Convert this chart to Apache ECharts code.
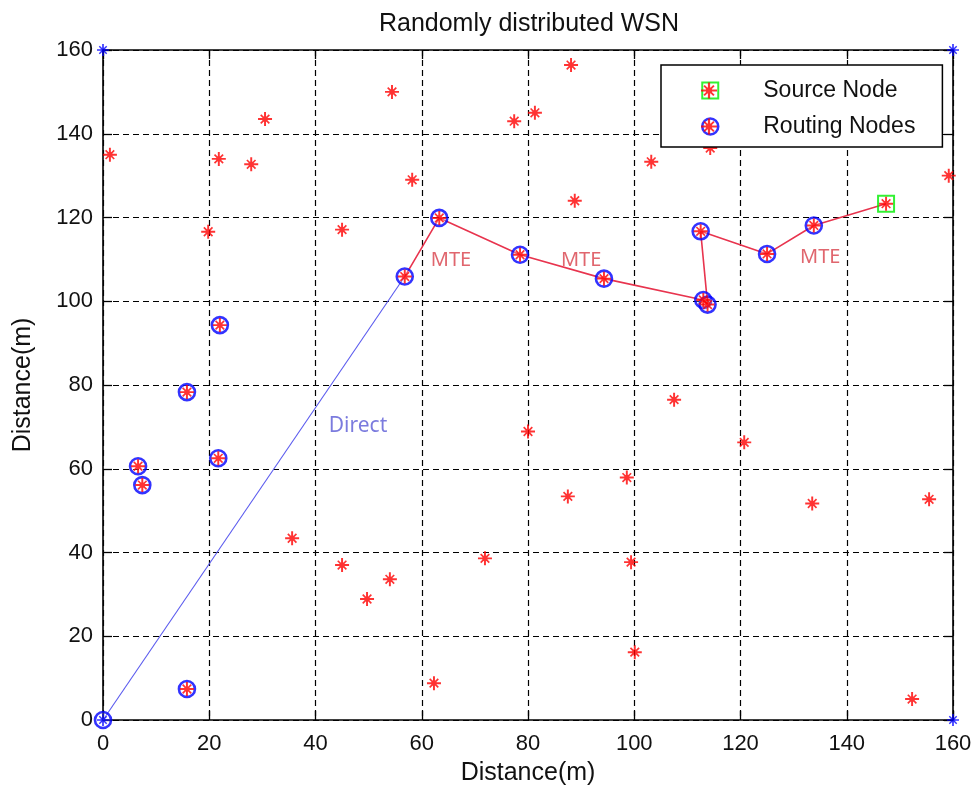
<!DOCTYPE html>
<html>
<head>
<meta charset="utf-8">
<script src="https://cdn.jsdelivr.net/npm/echarts@6/dist/echarts.min.js"></script>
<style>html,body{margin:0;padding:0;background:#fff;}#c{width:979px;height:791px;}</style>
</head>
<body>
<div id="c"></div>
<script>
// ---- data ----
const otherNodes = [
  [1.3,135],[21.8,134],[27.9,132.7],[30.5,143.5],[19.8,116.6],[54.4,150],[45,117.1],[58.2,129],
  [77.4,143],[81.3,145],[88.1,156.4],[88.8,124],[103.2,133.3],[114.3,136.6],[159.2,130],
  [107.5,76.5],[120.7,66.3],[80,68.9],[87.5,53.4],[98.6,57.9],[99.4,37.7],[100.1,16.2],
  [133.5,51.7],[155.5,52.7],[152.3,5],[35.6,43.4],[45,37],[49.7,28.9],[54,33.6],[71.9,38.6],[62.3,8.8]
];
const routingNodes = [
  [6.6,60.6],[7.4,56.1],[15.8,78.3],[21.7,62.5],[22,94.3],[15.8,7.4],
  [56.8,105.9],[63.3,119.9],[78.5,111.1],[94.3,105.4],[113.0,100.3],[113.8,99.2],
  [112.5,116.7],[125,111.3],[133.8,118.1]
];
const sourceNode = [[147.4,123.3]];
const sinkNode = [[0,0]];
const cornerNodes = [[0,0],[0,160],[160,160],[160,0]];
const mtePath = [[56.8,105.9],[63.3,119.9],[78.5,111.1],[94.3,105.4],[113.0,100.3],[113.8,99.3],[112.5,116.7],[125,111.3],[133.8,118.1],[147.4,123.3]];
const directPath = [[0,0],[56.8,105.9]];
const mteLabels = [[65.5,109.7,'MTE'],[90,109.7,'MTE'],[135,110.6,'MTE']];
const directLabels = [[48,70.1,'Direct']];
const axisTicks = [0,20,40,60,80,100,120,140,160];

// ---- symbols ----
const STAR = 'path://M0 8.6 L20 8.6 L20 11.4 L0 11.4 Z M8.6 0 L11.4 0 L11.4 20 L8.6 20 Z M6.3 6.3 L13.7 6.3 L13.7 13.7 L6.3 13.7 Z M3 4.7 L4.7 3 L17 15.3 L15.3 17 Z M15.3 3 L17 4.7 L4.7 17 L3 15.3 Z';
const FONT = 'Liberation Sans, Arial, sans-serif';

const chart = echarts.init(document.getElementById('c'), null, {renderer:'canvas'});

const gridLine = {show:true, lineStyle:{color:'#000', type:[6,4], width:1.2}};
const axLine = {show:true, onZero:false, lineStyle:{color:'#000', width:1.6}};
const tick = {show:true, inside:true, length:9, lineStyle:{color:'#000', width:1.3}};

const option = {
  backgroundColor:'#fff',
  animation:false,
  title:{text:'Randomly distributed WSN', left:524, top:7, textAlign:'center',
    textStyle:{fontFamily:FONT, fontSize:25, fontWeight:'normal', color:'#111'}},
  grid:{left:103, right:26, top:50, bottom:70},
  xAxis:[
    {type:'value', min:0, max:160, interval:20, position:'bottom',
     name:'Distance(m)', nameLocation:'middle', nameGap:41,
     nameTextStyle:{fontFamily:FONT, fontSize:25, color:'#111'},
     axisLine:axLine, axisTick:tick, splitLine:gridLine,
     axisLabel:{fontFamily:FONT, fontSize:22, color:'#111', margin:13}},
    {type:'value', min:0, max:160, interval:20, position:'top',
     axisLine:axLine, axisTick:tick, splitLine:{show:false}, axisLabel:{show:false}}
  ],
  yAxis:[
    {type:'value', min:0, max:160, interval:20, position:'left',
     name:'Distance(m)', nameLocation:'middle', nameGap:67, nameRotate:90,
     nameTextStyle:{fontFamily:FONT, fontSize:25, color:'#111'},
     axisLine:axLine, axisTick:tick, splitLine:gridLine,
     axisLabel:{fontFamily:FONT, fontSize:22, color:'#111', margin:10}},
    {type:'value', min:0, max:160, interval:20, position:'right',
     axisLine:axLine, axisTick:tick, splitLine:{show:false}, axisLabel:{show:false}}
  ],
  legend:[
    {orient:'vertical', left:661, top:65, padding:[14,27,9,40], itemGap:13,
     itemWidth:16, itemHeight:16, backgroundColor:'#fff', borderColor:'#000', borderWidth:1.5,
     selectedMode:false, z:20,
     textStyle:{fontFamily:FONT, fontSize:23, color:'#111', padding:[0,0,0,40]},
     data:[
       {name:'Source Node', icon:'rect', itemStyle:{color:'#fff', borderColor:'#00ee00', borderWidth:2}},
       {name:'Routing Nodes', icon:'circle', itemStyle:{color:'#fff', borderColor:'#0000ff', borderWidth:2.5}}
     ]},
    {orient:'vertical', left:661, top:65, padding:[14,27,9,40], itemGap:13,
     itemWidth:16, itemHeight:16, selectedMode:false, z:21,
     textStyle:{fontFamily:FONT, fontSize:23, color:'rgba(0,0,0,0)', padding:[0,0,0,40]},
     data:[
       {name:'Source Node', icon:STAR, itemStyle:{color:'#ff0000', borderWidth:0}},
       {name:'Routing Nodes', icon:STAR, itemStyle:{color:'#ff0000', borderWidth:0}}
     ]}
  ],
  series:[
    {name:'Direct', type:'line', data:directPath, symbol:'none', z:2,
     lineStyle:{color:'#5a5aee', width:1.1}},
    {name:'MTE', type:'line', data:mtePath, symbol:'none', z:2,
     lineStyle:{color:'#e8344e', width:1.6}},
    {name:'Routing Nodes', type:'scatter', data:routingNodes.concat(sinkNode), symbol:'circle', symbolSize:16, clip:false, z:3,
     itemStyle:{color:'rgba(255,255,255,0.3)', borderColor:'#0000ff', borderWidth:2.6}},
    {name:'Source Node', type:'scatter', data:sourceNode, symbol:'rect', symbolSize:16, clip:false, z:3,
     itemStyle:{color:'rgba(255,255,255,0)', borderColor:'#00ee00', borderWidth:2}},
    {name:'Nodes', type:'scatter', data:otherNodes.concat(routingNodes, sourceNode), symbol:STAR, symbolSize:14, clip:false, z:4,
     itemStyle:{color:'#ff0000'}},
    {name:'Corners', type:'scatter', data:cornerNodes, symbol:STAR, symbolSize:12, clip:false, z:4,
     itemStyle:{color:'#0000ff'}},
    {name:'MTE label', type:'scatter', symbolSize:0, z:5, silent:true,
     data:mteLabels.map(d=>({value:[d[0],d[1]], label:{formatter:d[2]}})),
     label:{show:true, position:'inside', fontFamily:'Noto Sans, Open Sans, sans-serif', fontSize:20, color:'#d8404a'}},
    {name:'Direct label', type:'scatter', symbolSize:0, z:5, silent:true,
     data:directLabels.map(d=>({value:[d[0],d[1]], label:{formatter:d[2]}})),
     label:{show:true, position:'inside', fontFamily:'Noto Sans, Open Sans, sans-serif', fontSize:21, color:'#5a5ad6'}}
  ]
};
chart.setOption(option);
</script>
</body>
</html>
